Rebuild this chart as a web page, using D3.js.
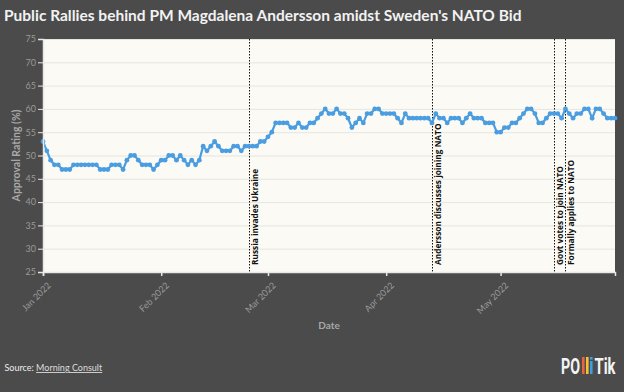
<!DOCTYPE html>
<html>
<head>
<meta charset="utf-8">
<script src="https://cdn.jsdelivr.net/npm/d3@7"></script>
<style>
  body { margin: 0; background: #4b4b4b; }
  svg { display: block; }
</style>
</head>
<body>
<div id="chart"></div>
<script>
// daily approval rating, Jan 1 2022 .. May 31 2022
const startDate = "2022-01-01";
const approval = [
  53, 51, 49, 48, 48, 47, 47, 47, 48, 48, 48, 48, 48, 48, 48, 47, 47, 47, 48, 48,
  48, 47, 49, 50, 50, 49, 48, 48, 48, 47, 48,
  49, 49, 50, 50, 49, 50, 49, 48, 49, 48, 49, 52, 51, 52, 53, 52, 51, 51, 51,
  52, 52, 51, 52, 52, 52, 52, 53, 53,
  54, 55, 57, 57, 57, 57, 56, 56, 57, 56, 56, 57, 57, 58, 59, 60, 59, 59, 60, 59,
  59, 58, 56, 57, 58, 57, 59, 59, 60, 60, 59,
  59, 59, 59, 58, 57, 59, 58, 58, 58, 58, 58, 58, 57, 59, 58, 58, 57, 58, 58, 58,
  57, 58, 59, 58, 58, 58, 57, 57, 57, 55,
  55, 56, 56, 57, 57, 58, 59, 60, 60, 59, 57, 57, 58, 59, 59, 59, 58, 60, 59, 58,
  59, 59, 60, 60, 58, 60, 60, 59, 58, 58, 58
];
const yTicks = [25, 30, 35, 40, 45, 50, 55, 60, 65, 70, 75];
const monthTicks = ["2022-01-01", "2022-02-01", "2022-03-01", "2022-04-01", "2022-05-01"];
const eventDates = ["2022-02-24", "2022-04-13", "2022-05-15", "2022-05-18"];
const eventLabels = ["Russia invades Ukraine", "Andersson discusses joining NATO",
  "Govt votes to join NATO", "Formally applies to NATO"];

const W = 624, H = 392;
const margin = {top: 39, right: 9, bottom: 120, left: 43};
const width = W - margin.left - margin.right,
      height = H - margin.top - margin.bottom;

const parse = d3.timeParse("%Y-%m-%d");
const t0 = parse(startDate);
const series = approval.map((v, i) => ({date: d3.timeDay.offset(t0, i), value: v}));

const svg = d3.select("#chart").append("svg")
  .attr("width", W).attr("height", H)
  .style("font-family", "Lato, sans-serif");

svg.append("rect").attr("width", W).attr("height", H).attr("fill", "#4b4b4b");

svg.append("text")
  .attr("x", 4).attr("y", 21)
  .attr("fill", "#f2f2f2")
  .style("font-size", "15.5px").style("font-weight", 700)
  .text("Public Rallies behind PM Magdalena Andersson amidst Sweden's NATO Bid");

const g = svg.append("g").attr("transform", `translate(${margin.left},${margin.top})`);

const x = d3.scaleTime()
  .domain(d3.extent(series, d => d.date))
  .range([0, width]);
const y = d3.scaleLinear().domain([25, 75]).range([height, 0]);

g.append("rect").attr("width", width).attr("height", height).attr("fill", "#fbfaf4");

// grid
g.append("g").selectAll("line").data(yTicks).join("line")
  .attr("x1", 0).attr("x2", width)
  .attr("y1", d => y(d) + 0.5).attr("y2", d => y(d) + 0.5)
  .attr("stroke", "#e6e5df").attr("stroke-width", 1);

// event lines
const ev = g.append("g").selectAll("g").data(eventDates).join("g")
  .attr("transform", d => `translate(${Math.round(x(parse(d))) + 0.5},0)`);
ev.append("line")
  .attr("y1", 0).attr("y2", height)
  .attr("stroke", "#111").attr("stroke-width", 1)
  .attr("stroke-dasharray", "1.5,1.5");
ev.append("text")
  .attr("transform", `translate(8.5,${height - 7}) rotate(-90)`)
  .attr("fill", "#111")
  .style("font-family", "'Open Sans', sans-serif")
  .style("font-size", "8.3px").style("font-weight", 700)
  .text((d, i) => eventLabels[i]);

// line + dots
const line = d3.line().x(d => x(d.date)).y(d => y(d.value));
g.append("path").datum(series)
  .attr("d", line).attr("fill", "none")
  .attr("stroke", "#4a9de0").attr("stroke-width", 2.2);
g.append("g").selectAll("circle").data(series).join("circle")
  .attr("cx", d => x(d.date)).attr("cy", d => y(d.value))
  .attr("r", 2.4).attr("fill", "#4a9de0");

// axes
const yAxis = g.append("g")
  .call(d3.axisLeft(y).tickValues(yTicks).tickSize(5).tickPadding(2));
yAxis.select(".domain").attr("stroke", "#e8e8e8").attr("stroke-width", 1.5);
yAxis.selectAll(".tick line").attr("stroke", "#e8e8e8");
yAxis.selectAll("text").attr("fill", "#9a9a9a").style("font-size", "9px")
  .style("font-family", "Lato, sans-serif");

const xAxis = g.append("g").attr("transform", `translate(0,${height})`)
  .call(d3.axisBottom(x).tickValues(monthTicks.map(parse)).tickSize(4)
    .tickFormat(d3.timeFormat("%b %Y")));
xAxis.select(".domain").attr("stroke", "#e8e8e8").attr("stroke-width", 1.5);
xAxis.selectAll(".tick line").attr("stroke", "#e8e8e8").attr("stroke-width", 1.5);
xAxis.selectAll("text")
  .attr("fill", "#9a9a9a").style("font-size", "9px")
  .style("font-family", "Lato, sans-serif")
  .attr("text-anchor", "end")
  .attr("dy", 0)
  .attr("transform", "translate(3,9) rotate(-45)");

// axis titles
svg.append("text")
  .attr("transform", `translate(20,${margin.top + height / 2}) rotate(-90)`)
  .attr("text-anchor", "middle")
  .attr("fill", "#a8a8a8").style("font-size", "10.5px").style("font-weight", 700)
  .text("Approval Rating (%)");
svg.append("text")
  .attr("x", margin.left + width / 2).attr("y", 329)
  .attr("text-anchor", "middle")
  .attr("fill", "#a8a8a8").style("font-size", "10px").style("font-weight", 700)
  .text("Date");

// source
const src = svg.append("text").attr("x", 4.5).attr("y", 371)
  .attr("fill", "#eeeeee").style("font-size", "9px");
src.append("tspan").text("Source: ");
src.append("tspan").attr("fill", "#dcdcdc").attr("text-decoration", "underline").text("Morning Consult");

// logo
const logoFont = "'Liberation Sans Narrow', 'Roboto', sans-serif";
const logo = svg.append("g").attr("transform", "translate(561,374)");
const logoTxt = logo.append("g").attr("transform", "scale(1,1.35)");
logoTxt.append("text").attr("x", 0).attr("y", 0).attr("fill", "#f4f4f4")
  .style("font-family", logoFont)
  .style("font-size", "17px").style("font-weight", 700)
  .attr("textLength", 19).attr("lengthAdjust", "spacingAndGlyphs").text("PO");
logoTxt.append("text").attr("x", 33.5).attr("y", 0).attr("fill", "#f4f4f4")
  .style("font-family", logoFont)
  .style("font-size", "17px").style("font-weight", 700)
  .attr("textLength", 21).attr("lengthAdjust", "spacingAndGlyphs").text("Tik");
const barCols = ["#e8663d", "#f2c23a", "#3d9ee0"];
logo.selectAll("rect.b").data(barCols).join("rect")
  .attr("x", (d, i) => 21 + i * 4).attr("y", (d, i) => i === 2 ? -13 : -17)
  .attr("width", 2.6).attr("height", (d, i) => i === 2 ? 13 : 17).attr("fill", d => d);
logo.append("rect").attr("x", 29).attr("y", -17).attr("width", 2.6).attr("height", 2.6).attr("fill", "#3d9ee0");
</script>
</body>
</html>
